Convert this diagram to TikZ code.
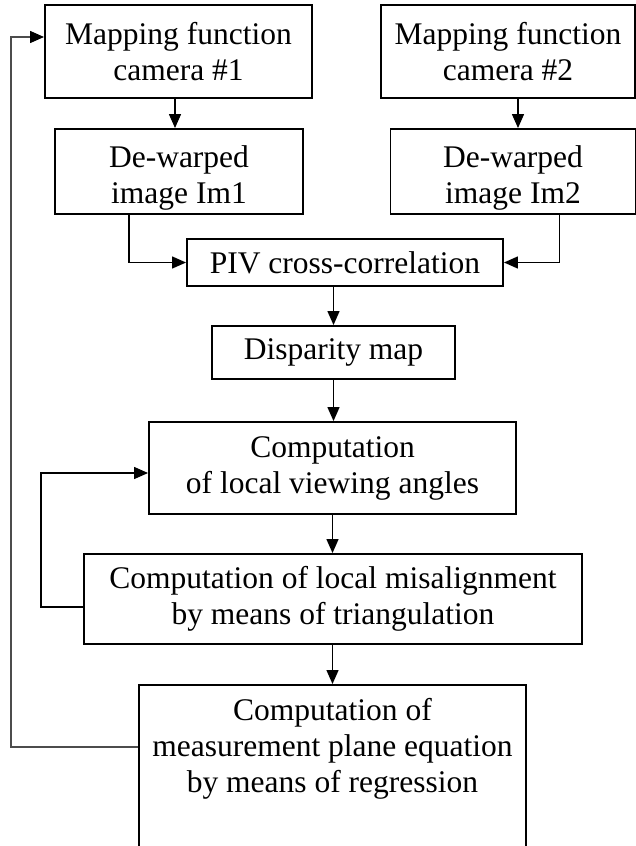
\documentclass[tikz,border=0pt]{standalone}
\usepackage{fontspec}
\setmainfont{Liberation Serif}
\usetikzlibrary{arrows.meta}
\tikzset{
  blk/.style = {draw=black, line width=1.9pt, inner sep=0pt, align=center,
                font=\fontsize{31.5}{36}\selectfont},
  arr/.style = {line width=1.4pt, -{Triangle[length=14pt,width=12pt,color=black]}}}
\begin{document}
\begin{tikzpicture}[x=1pt,y=-1pt]
   \useasboundingbox (0,0) rectangle (636,846);
   \node[blk, minimum width=267, minimum height=93] (map1) at (178.5,51.5) {Mapping function\\camera \#1};
   \node[blk, minimum width=254, minimum height=93] (map2) at (508,51.5)   {Mapping function\\camera \#2};
   \node[blk, minimum width=248, minimum height=85, text height=70pt] (dew1) at (179,171.5)  {De-warped\\image Im1};
   \node[blk, minimum width=245, minimum height=85, text height=70pt] (dew2) at (513,171.5)  {De-warped\\image Im2};
   \node[blk, minimum width=316, minimum height=47] (piv)  at (345,262.5)  {PIV cross-correlation};
   \node[blk, minimum width=243, minimum height=53] (disp) at (333.5,352.5) {Disparity map};
   \node[blk, minimum width=367, minimum height=92] (view) at (332.5,468)  {Computation\\of local viewing angles};
   \node[blk, minimum width=498, minimum height=90] (mis)  at (333,599)    {Computation of local misalignment\\by means of triangulation};
   \node[blk, minimum width=387, anchor=north, inner ysep=8pt, text height=100pt, text depth=50pt]
        (reg) at (332.5,684) {Computation of\\measurement plane equation\\by means of regression};

   \draw[arr] ([xshift=-3.5pt]map1.south) -- ([xshift=-4pt]dew1.north);
   \draw[arr] ([xshift=10pt]map2.south)   -- ([xshift=5pt]dew2.north);
   \draw[arr] ([xshift=75pt]dew1.south west)  |- (piv.west);
   \draw[arr] ([xshift=170pt]dew2.south west) |- (piv.east);
   \draw[arr] (piv.south -| disp.north) -- (disp.north);
   \draw[arr] (disp.south) -- (disp.south |- view.north);
   \draw[arr] (view.south) -- (view.south |- mis.north);
   \draw[arr] (mis.south -| reg.north) -- (reg.north);
   \draw[arr] ([yshift=-8pt]mis.west) -- ++(-42,0) coordinate (lp1) |- ([yshift=-5pt]view.west);
   \draw[arr, black!70] ([yshift=-63pt]reg.north west) -- ++(-127,0) coordinate (lp2) |- ([yshift=14.5pt]map1.west);
\end{tikzpicture}
\end{document}
